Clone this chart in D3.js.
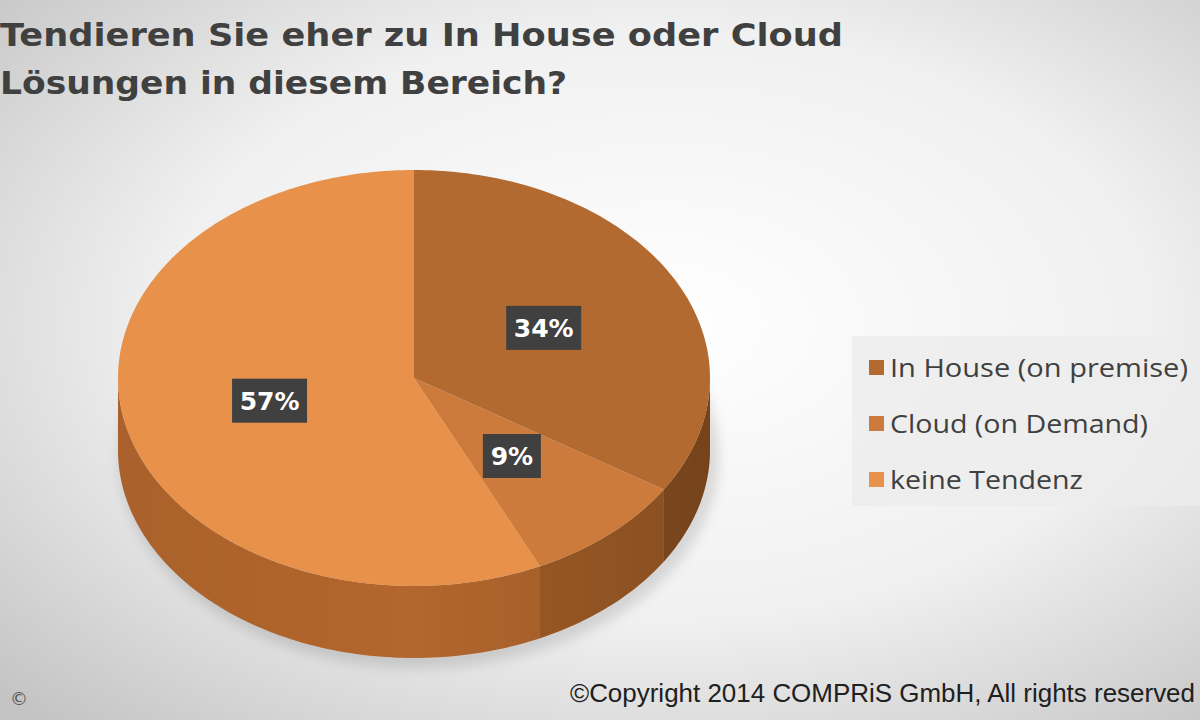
<!DOCTYPE html><html><head><meta charset="utf-8">
<script src="https://cdn.jsdelivr.net/npm/d3@7"></script>
<style>body{margin:0;overflow:hidden}</style></head><body>
<svg id="c" width="1200" height="720"></svg>
<script>
const categories=["In House (on premise)","Cloud (on Demand)","keine Tendenz"];
const values=[34,9,57];
const topColors=["#b26a30","#cc7b3c","#e8914a"];
const sideColors=["#8a4f20","#a05c26","#b3662d"];
const titleLines=["Tendieren Sie eher zu In House oder Cloud","Lösungen in diesem Bereich?"];
const copyright="©Copyright 2014 COMPRiS GmbH, All rights reserved";

const svg=d3.select("#c");
const defs=svg.append("defs");
const rg=defs.append("radialGradient").attr("id","bg").attr("cx","55%").attr("cy","45%").attr("r","75%");
rg.append("stop").attr("offset","0%").attr("stop-color","#ffffff");
rg.append("stop").attr("offset","55%").attr("stop-color","#f0f0f0");
rg.append("stop").attr("offset","100%").attr("stop-color","#c4c4c4");
svg.append("rect").attr("width",1200).attr("height",720).attr("fill","url(#bg)");

const cx=414,cy=378,rx=296,ry=208,depth=72;
const pie=d3.pie().sort(null).value(d=>d).startAngle(0).endAngle(2*Math.PI);
const arcs=pie(values);
const P=(a,dy=0)=>[cx+rx*Math.sin(a),cy-ry*Math.cos(a)+dy];
function arcPts(a0,a1,dy){const n=Math.max(2,Math.ceil((a1-a0)/0.02));return d3.range(n+1).map(i=>P(a0+(a1-a0)*i/n,dy));}

svg.append("ellipse").attr("cx",cx+5).attr("cy",cy+depth+6).attr("rx",rx+4).attr("ry",ry+4).attr("fill","rgba(0,0,0,0.12)").style("filter","blur(6px)");
const sg=defs.append("linearGradient").attr("id","sideShade").attr("x1","0").attr("x2","1");
sg.append("stop").attr("offset","0").attr("stop-color","#000").attr("stop-opacity",0.05);
sg.append("stop").attr("offset","0.5").attr("stop-color","#000").attr("stop-opacity",0);
sg.append("stop").attr("offset","1").attr("stop-color","#000").attr("stop-opacity",0.15);
arcs.forEach((d,i)=>{
  const a0=Math.max(d.startAngle,Math.PI/2),a1=Math.min(d.endAngle,3*Math.PI/2);
  if(a1<=a0)return;
  const pts=arcPts(a0,a1,0).concat(arcPts(a0,a1,depth).reverse());
  svg.append("path").attr("d",d3.line()(pts)+"Z").attr("fill",sideColors[i]);
});
{const pts=arcPts(Math.PI/2,3*Math.PI/2,0).concat(arcPts(Math.PI/2,3*Math.PI/2,depth).reverse());
svg.append("path").attr("d",d3.line()(pts)+"Z").attr("fill","url(#sideShade)");}
arcs.forEach((d,i)=>{
  const pts=[[cx,cy]].concat(arcPts(d.startAngle,d.endAngle,0));
  svg.append("path").attr("d",d3.line()(pts)+"Z").attr("fill",topColors[i]);
});
arcs.forEach((d,i)=>{
  const m=(d.startAngle+d.endAngle)/2;
  const x=cx+0.5*rx*Math.sin(m),y=cy-0.5*ry*Math.cos(m);
  const t=values[i]+"%";const w=t.length*17+24;
  svg.append("rect").attr("x",x-w/2).attr("y",y-22).attr("width",w).attr("height",44).attr("fill","#404040");
  svg.append("text").attr("x",x).attr("y",y+9).attr("text-anchor","middle").attr("fill","#fff")
    .attr("font-family","Verdana, DejaVu Sans, sans-serif").attr("font-weight","bold").attr("font-size",25).text(t);
});
titleLines.forEach((l,i)=>svg.append("text").attr("x",0).attr("y",46+i*48).attr("fill","#404040")
  .attr("font-family","DejaVu Sans, Verdana, sans-serif").attr("font-weight","bold").attr("font-size",32)
  .attr("textLength",i==0?843:567).attr("lengthAdjust","spacingAndGlyphs").text(l));
svg.append("rect").attr("x",852).attr("y",336).attr("width",350).attr("height",170).attr("fill","#ececec").attr("opacity",0.8);
const legLen=[298,258,193];
categories.forEach((c,i)=>{
  const y=368+i*56;
  svg.append("rect").attr("x",869).attr("y",y-8).attr("width",15).attr("height",15).attr("fill",topColors[i]);
  svg.append("text").attr("x",890).attr("y",y+9).attr("fill","#404040").attr("font-family","Open Sans, sans-serif").attr("font-size",26)
    .attr("textLength",legLen[i]).attr("lengthAdjust","spacingAndGlyphs").text(c);
});
svg.append("text").attr("x",1195).attr("y",702).attr("text-anchor","end").attr("fill","#202020")
  .attr("font-family","Liberation Sans Narrow, Liberation Sans, sans-serif").attr("font-size",25)
  .attr("textLength",625).attr("lengthAdjust","spacingAndGlyphs").text(copyright);
svg.append("text").attr("x",10).attr("y",705).attr("fill","#555").attr("font-family","DejaVu Sans").attr("font-size",18).text("©");
</script></body></html>
